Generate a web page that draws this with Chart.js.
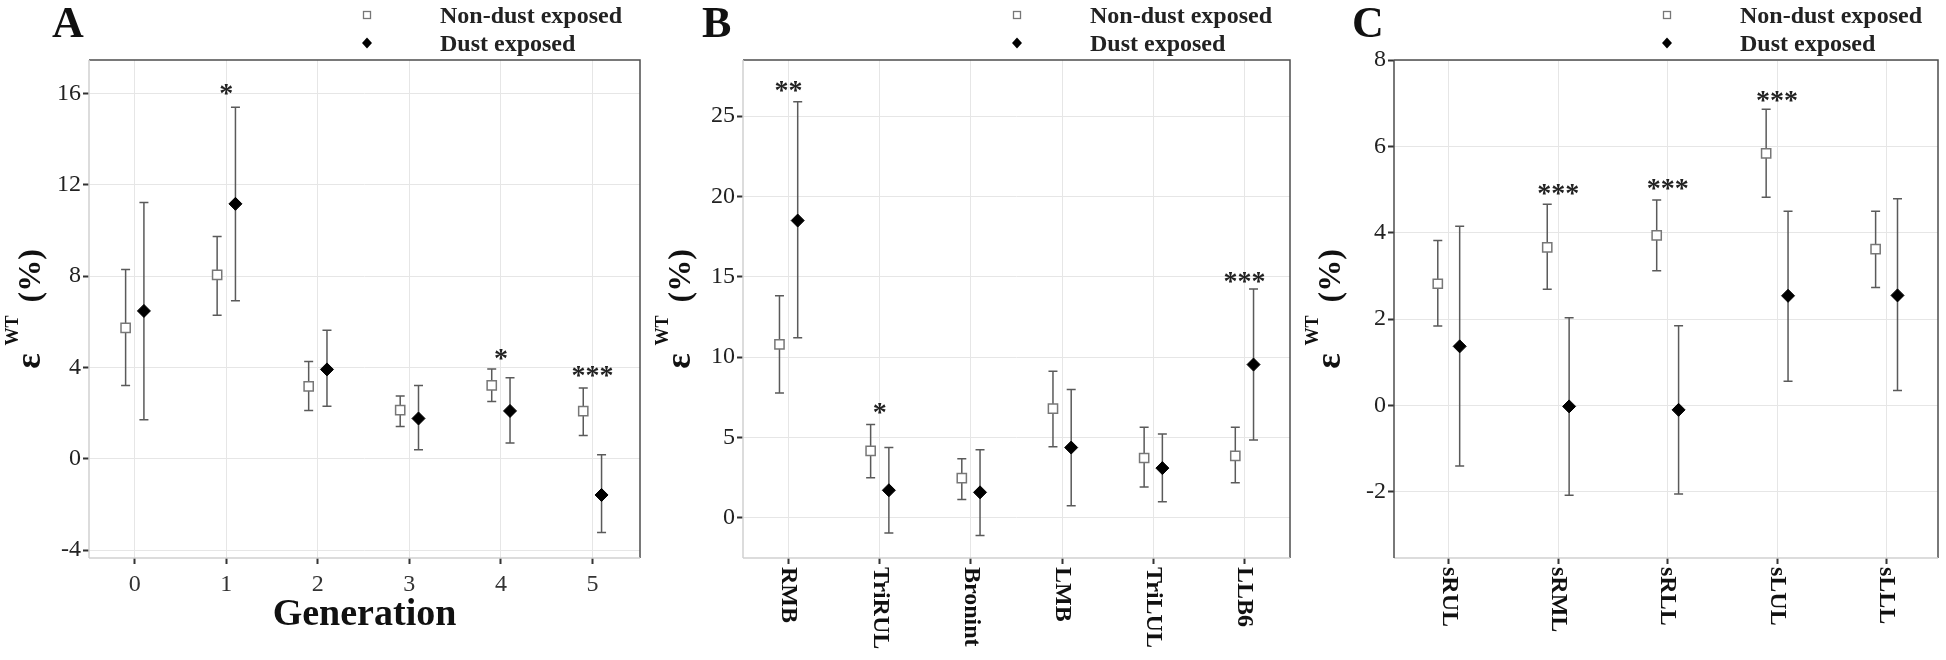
<!DOCTYPE html>
<html>
<head>
<meta charset="utf-8">
<script src="https://cdn.jsdelivr.net/npm/chart.js@4.4.1/dist/chart.umd.min.js"></script>
<style>
  body { margin: 0; background: #fff; }
  canvas { position: absolute; top: 0; }
</style>
</head>
<body>
<canvas id="panelA" width="650" height="660" style="left:0px"></canvas>
<canvas id="panelB" width="650" height="660" style="left:650px"></canvas>
<canvas id="panelC" width="646" height="660" style="left:1300px"></canvas>
<script>
// Panel A: by airway generation
var genLabels = ["0", "1", "2", "3", "4", "5"];
var aNonMean = [5.73, 8.05, 3.17, 2.13, 3.21, 2.08];
var aNonLow = [3.21, 6.28, 2.11, 1.41, 2.50, 1.02];
var aNonHigh = [8.29, 9.73, 4.26, 2.74, 3.93, 3.10];
var aDustMean = [6.47, 11.16, 3.91, 1.76, 2.09, -1.59];
var aDustLow = [1.71, 6.92, 2.30, 0.39, 0.69, -3.23];
var aDustHigh = [11.22, 15.39, 5.62, 3.21, 3.54, 0.17];
var aSig = ["", "*", "", "", "*", "***"];
var aSigY = [null, 16.2, null, null, 4.6, 3.85];
var aTicks = [-4, 0, 4, 8, 12, 16];

// Panel B: by airway path
var pathLabels = ["RMB", "TriRUL", "Bronint", "LMB", "TriLUL", "LLB6"];
var bNonMean = [10.79, 4.15, 2.46, 6.79, 3.71, 3.84];
var bNonLow = [7.76, 2.48, 1.12, 4.41, 1.91, 2.17];
var bNonHigh = [13.82, 5.80, 3.66, 9.12, 5.62, 5.62];
var bDustMean = [18.5, 1.70, 1.57, 4.36, 3.08, 9.53];
var bDustLow = [11.2, -0.97, -1.12, 0.73, 0.99, 4.83];
var bDustHigh = [25.9, 4.36, 4.23, 7.97, 5.20, 14.24];
var bSig = ["**", "*", "", "", "", "***"];
var bSigY = [26.9, 6.8, null, null, null, 15.0];
var bTicks = [0, 5, 10, 15, 20, 25];

// Panel C: by lobe
var lobeLabels = ["sRUL", "sRML", "sRLL", "sLUL", "sLLL"];
var cNonMean = [2.82, 3.66, 3.94, 5.84, 3.62];
var cNonLow = [1.84, 2.69, 3.12, 4.82, 2.73];
var cNonHigh = [3.82, 4.66, 4.76, 6.86, 4.50];
var cDustMean = [1.37, -0.02, -0.10, 2.54, 2.55];
var cDustLow = [-1.40, -2.08, -2.05, 0.56, 0.35];
var cDustHigh = [4.15, 2.03, 1.85, 4.50, 4.79];
var cSig = ["", "***", "***", "***", ""];
var cSigY = [null, 5.02, 5.14, 7.17, null];
var cTicks = [-2, 0, 2, 4, 6, 8];

var serif = "'Liberation Serif', 'Times New Roman', serif";
Chart.defaults.font.family = serif;

function points(vals, shift) {
  return vals.map(function (v, i) { return { x: i + shift, y: v }; });
}

// y title: epsilon with superscript WT, then (%)
function drawYTitle(ctx, x, cy) {
  var eps = "bold 36px " + serif, big = "bold 32px " + serif, small = "bold 18px " + serif;
  ctx.save();
  ctx.font = eps;
  var wE = ctx.measureText("ε").width;
  ctx.font = big;
  var wP = ctx.measureText("(%)").width;
  ctx.font = small;
  var wW = ctx.measureText("WT").width;
  var total = wE + 8 + wW + 13 + wP;
  ctx.translate(x, cy);
  ctx.rotate(-Math.PI / 2);
  ctx.fillStyle = "#111";
  ctx.textAlign = "left";
  ctx.textBaseline = "alphabetic";
  var s = -total / 2;
  ctx.font = eps;
  ctx.fillText("ε", s, 0);
  ctx.font = small;
  ctx.fillText("WT", s + wE + 8, -22);
  ctx.font = big;
  ctx.fillText("(%)", s + wE + 8 + wW + 13, 0);
  ctx.restore();
}

function makePanel(id, p) {
  var canvas = document.getElementById(id);
  var ctx = canvas.getContext("2d");

  var decor = {
    id: "decor",
    beforeDatasetsDraw: function (chart) {
      var c = chart.ctx, xs = chart.scales.x, ys = chart.scales.y;
      c.save();
      chart.data.datasets.forEach(function (ds) {
        c.strokeStyle = "#5a5a5a";
        c.lineWidth = 1.5;
        ds.data.forEach(function (pt, i) {
          var x = xs.getPixelForValue(pt.x);
          var y1 = ys.getPixelForValue(ds.low[i]);
          var y2 = ys.getPixelForValue(ds.high[i]);
          c.beginPath();
          c.moveTo(x, y1); c.lineTo(x, y2);
          c.moveTo(x - 4.5, y1); c.lineTo(x + 4.5, y1);
          c.moveTo(x - 4.5, y2); c.lineTo(x + 4.5, y2);
          c.stroke();
        });
      });
      c.restore();
    },
    afterDraw: function (chart) {
      var c = chart.ctx, a = chart.chartArea, xs = chart.scales.x, ys = chart.scales.y;
      c.save();
      // significance stars
      c.fillStyle = "#222";
      c.font = "bold 28px " + serif;
      c.textAlign = "center";
      c.textBaseline = "alphabetic";
      p.sig.forEach(function (s, i) {
        if (!s) return;
        c.fillText(s, xs.getPixelForValue(i), ys.getPixelForValue(p.sigY[i]) + 13);
      });
      // panel box
      c.lineWidth = 1.5;
      c.strokeStyle = "#4d4d4d";
      c.beginPath();
      c.moveTo(a.left, a.top); c.lineTo(a.right, a.top); c.lineTo(a.right, a.bottom);
      c.stroke();
      c.strokeStyle = "#d0d0d0";
      c.beginPath();
      c.moveTo(a.left, a.bottom); c.lineTo(a.right, a.bottom);
      c.stroke();
      c.strokeStyle = p.leftDark ? "#4d4d4d" : "#d0d0d0";
      c.beginPath();
      c.moveTo(a.left, a.top); c.lineTo(a.left, a.bottom);
      c.stroke();
      // rotated category labels
      if (p.rotated) {
        c.fillStyle = "#111";
        c.font = "bold 24px " + serif;
        c.textAlign = "left";
        c.textBaseline = "middle";
        p.labels.forEach(function (l, i) {
          c.save();
          c.translate(xs.getPixelForValue(i), a.bottom + 9);
          c.rotate(Math.PI / 2);
          c.fillText(l, 0, 0);
          c.restore();
        });
      }
      if (p.xTitle) {
        c.fillStyle = "#111";
        c.font = "bold 38px " + serif;
        c.textAlign = "center";
        c.textBaseline = "alphabetic";
        c.fillText(p.xTitle, (a.left + a.right) / 2, 625);
      }
      drawYTitle(c, 40, (a.top + a.bottom) / 2);
      // panel letter
      c.fillStyle = "#111";
      c.font = "bold 44px " + serif;
      c.textAlign = "left";
      c.textBaseline = "alphabetic";
      c.fillText(p.letter, 52, 37);
      // legend
      var d0 = chart.data.datasets[0], d1 = chart.data.datasets[1];
      c.fillStyle = "#fff";
      c.strokeStyle = "#777";
      c.lineWidth = 1.3;
      c.fillRect(363.5, 11.5, 7, 7);
      c.strokeRect(363.5, 11.5, 7, 7);
      c.fillStyle = "#000";
      c.beginPath();
      c.moveTo(367, 37.5); c.lineTo(372, 43); c.lineTo(367, 48.5); c.lineTo(362, 43);
      c.closePath();
      c.fill();
      c.fillStyle = "#222";
      c.font = "bold 24px " + serif;
      c.fillText(d0.label, 440, 23);
      c.fillText(d1.label, 440, 51);
      c.restore();
    }
  };

  new Chart(ctx, {
    type: "scatter",
    data: {
      datasets: [
        {
          label: "Non-dust exposed",
          data: points(p.nonMean, -0.1),
          low: p.nonLow,
          high: p.nonHigh,
          pointStyle: "rect",
          pointRadius: 6.5,
          backgroundColor: "#fff",
          borderColor: "#777",
          borderWidth: 1.5,
        },
        {
          label: "Dust exposed",
          data: points(p.dustMean, 0.1),
          low: p.dustLow,
          high: p.dustHigh,
          pointStyle: "rectRot",
          pointRadius: 6.5,
          backgroundColor: "#000",
          borderColor: "#000",
          borderWidth: 1,
        },
      ],
    },
    options: {
      responsive: false,
      animation: false,
      devicePixelRatio: 1,
      events: [],
      layout: { padding: { left: 0, right: canvas.width - 640, top: 60, bottom: 0 } },
      plugins: { legend: { display: false }, tooltip: { enabled: false } },
      scales: {
        x: {
          type: "linear",
          min: p.xMin,
          max: p.xMax,
          afterBuildTicks: function (s) {
            s.ticks = p.labels.map(function (l, i) { return { value: i }; });
          },
          afterFit: function (s) { s.height = 102; },
          grid: { color: "#e6e6e6", tickLength: 6, tickColor: "#333", tickWidth: 2 },
          border: { display: false },
          ticks: {
            display: !p.rotated,
            autoSkip: false,
            maxRotation: 0,
            color: "#333",
            padding: 6,
            font: { size: 24 },
            callback: function (v, i) { return p.labels[i]; },
          },
        },
        y: {
          min: p.yMin,
          max: p.yMax,
          afterBuildTicks: function (s) {
            s.ticks = p.yTicks.map(function (v) { return { value: v }; });
          },
          afterFit: function (s) { s.width = p.left; },
          grid: { color: "#e6e6e6", tickLength: 6, tickColor: "#333", tickWidth: 2 },
          border: { display: false },
          ticks: { color: "#222", padding: 2, font: { size: 24 } },
        },
      },
    },
    plugins: [decor],
  });
}

makePanel("panelA", {
  letter: "A", labels: genLabels, rotated: false, xTitle: "Generation", left: 89, leftDark: false,
  nonMean: aNonMean, nonLow: aNonLow, nonHigh: aNonHigh,
  dustMean: aDustMean, dustLow: aDustLow, dustHigh: aDustHigh,
  sig: aSig, sigY: aSigY, yTicks: aTicks,
  xMin: -0.5, xMax: 5.52, yMin: -4.35, yMax: 17.46,
});

makePanel("panelB", {
  letter: "B", labels: pathLabels, rotated: true, xTitle: "", left: 93, leftDark: false,
  nonMean: bNonMean, nonLow: bNonLow, nonHigh: bNonHigh,
  dustMean: bDustMean, dustLow: bDustLow, dustHigh: bDustHigh,
  sig: bSig, sigY: bSigY, yTicks: bTicks,
  xMin: -0.5, xMax: 5.5, yMin: -2.52, yMax: 28.5,
});

makePanel("panelC", {
  letter: "C", labels: lobeLabels, rotated: true, xTitle: "", left: 94, leftDark: true,
  nonMean: cNonMean, nonLow: cNonLow, nonHigh: cNonHigh,
  dustMean: cDustMean, dustLow: cDustLow, dustHigh: cDustHigh,
  sig: cSig, sigY: cSigY, yTicks: cTicks,
  xMin: -0.5, xMax: 4.47, yMin: -3.53, yMax: 8.0,
});
</script>
</body>
</html>
